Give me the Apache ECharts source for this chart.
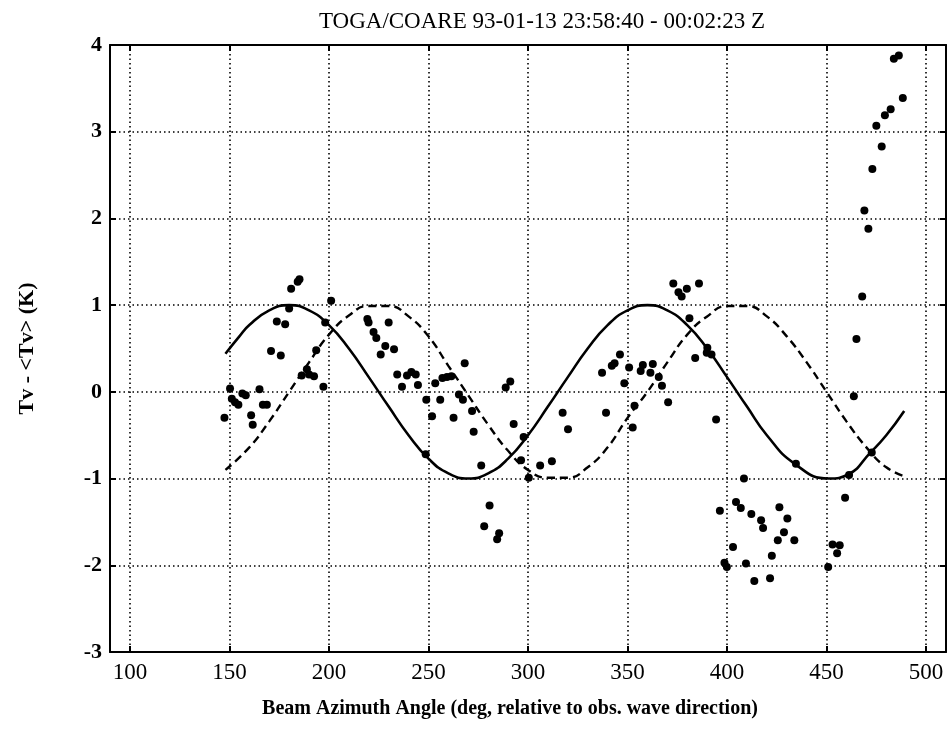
<!DOCTYPE html>
<html><head><meta charset="utf-8">
<script src="https://cdn.jsdelivr.net/npm/echarts@6/dist/echarts.min.js"></script>
<style>html,body{margin:0;padding:0;background:#fff}#c{width:952px;height:740px}</style>
</head><body><div id="c"></div>
<script>
const titleText = 'TOGA/COARE 93-01-13 23:58:40 - 00:02:23 Z';
const xAxisName = 'Beam Azimuth Angle (deg, relative to obs. wave direction)';
const yAxisName = 'Tv - <Tv> (K)';
const xTicks = [100, 150, 200, 250, 300, 350, 400, 450, 500];
const yTicks = [-3, -2, -1, 0, 1, 2, 3, 4];

// observed points [azimuth, Tv - <Tv>]
const obsAngle = [147.5,150.3,151.2,152.8,154.5,156.5,158.2,160.9,161.7,165.1,166.8,168.8,170.9,173.8,175.8,178.0,180.0,181.0,184.3,185.2,186.3,188.9,190.0,192.5,193.6,197.2,198.1,201.1,
219.3,219.9,222.4,223.8,226.0,228.3,230.0,232.7,234.3,236.7,239.2,241.4,243.6,244.7,248.6,248.9,251.8,253.4,255.9,257.0,259.3,261.5,262.6,265.3,267.3,268.2,271.9,272.7,276.5,278.0,280.7,284.5,285.5,288.8,291.1,292.8,296.5,297.8,300.4,306.1,312.0,317.4,320.1,
337.2,339.2,342.1,343.5,346.2,348.4,350.8,352.6,353.5,356.6,357.7,361.5,362.7,365.7,367.3,370.4,373.0,375.6,377.2,379.8,381.1,384.0,385.9,389.8,390.1,392.2,394.5,396.4,398.7,399.9,403.0,404.5,406.9,408.5,409.5,412.2,413.7,417.1,418.1,421.6,422.5,425.5,426.3,428.6,430.3,433.8,434.6,450.8,453.0,455.3,456.6,459.3,461.3,463.7,465.0,467.9,469.0,471.0,472.7,473.0,475.0,477.7,479.3,482.2,483.8,486.3,488.3];
const obsValue = [-0.30,0.04,-0.08,-0.12,-0.15,-0.02,-0.04,-0.27,-0.38,0.03,-0.15,-0.15,0.47,0.81,0.42,0.78,0.96,1.19,1.27,1.30,0.19,0.26,0.20,0.18,0.48,0.06,0.80,1.05,
0.84,0.80,0.69,0.62,0.43,0.53,0.80,0.49,0.20,0.06,0.19,0.23,0.20,0.08,-0.72,-0.09,-0.28,0.10,-0.09,0.16,0.17,0.18,-0.30,-0.03,-0.09,0.33,-0.22,-0.46,-0.85,-1.55,-1.31,-1.70,-1.63,0.05,0.12,-0.37,-0.79,-0.52,-0.99,-0.85,-0.80,-0.24,-0.43,
0.22,-0.24,0.30,0.33,0.43,0.10,0.28,-0.41,-0.16,0.24,0.31,0.22,0.32,0.17,0.07,-0.12,1.25,1.15,1.10,1.19,0.85,0.39,1.25,0.45,0.51,0.43,-0.32,-1.37,-1.97,-2.02,-1.79,-1.27,-1.34,-1.00,-1.98,-1.41,-2.18,-1.48,-1.57,-2.15,-1.89,-1.71,-1.33,-1.62,-1.46,-1.71,-0.83,-2.02,-1.76,-1.86,-1.77,-1.22,-0.96,-0.05,0.61,1.10,2.09,1.88,-0.70,2.57,3.07,2.83,3.19,3.26,3.84,3.88,3.39];

// solid fitted curve
const solidAngle = [148,155,160,170,180,190,200,210,220,230,240,250,260,270,280,290,300,310,320,330,340,350,360,370,380,390,400,410,420,434,451,461,472,480,489];
const solidValue = [0.44,0.64,0.77,0.94,1.00,0.94,0.77,0.50,0.17,-0.17,-0.50,-0.77,-0.94,-1.00,-0.94,-0.77,-0.50,-0.17,0.17,0.50,0.77,0.94,1.00,0.94,0.77,0.50,0.17,-0.17,-0.50,-0.83,-1.00,-0.95,-0.70,-0.50,-0.22];

// dashed curve
const dashAngle = [148,160,170,180,190,200,210,220,230,240,250,260,270,280,290,300,310,320,330,340,350,360,370,380,390,400,410,420,430,440,450,460,470,480,490];
const dashValue = [-0.90,-0.64,-0.34,0.00,0.34,0.66,0.88,0.99,0.99,0.87,0.64,0.30,-0.04,-0.38,-0.68,-0.90,-0.99,-0.99,-0.87,-0.64,-0.30,0.00,0.34,0.66,0.87,0.99,0.99,0.87,0.64,0.34,0.00,-0.34,-0.64,-0.87,-0.98];

const zip = (a, b) => a.map((v, i) => [v, b[i]]);

const serif = 'Liberation Serif';
const gridLine = { show: true, lineStyle: { color: '#000', width: 1.6, type: [1.5, 3] } };

const chart = echarts.init(document.getElementById('c'), null, { renderer: 'canvas' });
chart.setOption({
  backgroundColor: '#fff',
  animation: false,
  title: {
    text: titleText,
    left: 537, top: 5, textAlign: 'center',
    textStyle: { fontFamily: serif, fontSize: 23, fontWeight: 'normal', color: '#000' }
  },
  grid: { left: 110, right: 6, top: 45, bottom: 88 },
  xAxis: [{
    type: 'value', min: 90, max: 510, position: 'bottom',
    name: xAxisName, nameLocation: 'middle', nameGap: 47,
    nameTextStyle: { fontFamily: serif, fontSize: 20, fontWeight: 'bold', color: '#000', padding: [0, 36, 0, 0] },
    axisLine: { show: true, onZero: false, lineStyle: { color: '#000', width: 2 } },
    axisTick: { show: true, inside: true, length: 6, customValues: xTicks, lineStyle: { color: '#000', width: 2 } },
    axisLabel: { customValues: xTicks, margin: 9, fontFamily: serif, fontSize: 23, color: '#000' },
    splitLine: gridLine
  }, {
    type: 'value', min: 90, max: 510, position: 'top',
    axisLine: { show: true, onZero: false, lineStyle: { color: '#000', width: 2 } },
    axisTick: { show: true, inside: true, length: 6, customValues: xTicks, lineStyle: { color: '#000', width: 2 } },
    axisLabel: { show: false }, splitLine: { show: false }
  }],
  yAxis: [{
    type: 'value', min: -3, max: 4, interval: 1, position: 'left',
    name: yAxisName, nameLocation: 'middle', nameGap: 72, nameRotate: 90,
    nameTextStyle: { fontFamily: serif, fontSize: 22, fontWeight: 'bold', color: '#000' },
    axisLine: { show: true, onZero: false, lineStyle: { color: '#000', width: 2 } },
    axisTick: { show: true, inside: true, length: 6, lineStyle: { color: '#000', width: 2 } },
    axisLabel: { margin: 8, fontFamily: serif, fontSize: 22, fontWeight: 'bold', color: '#000' },
    splitLine: gridLine
  }, {
    type: 'value', min: -3, max: 4, interval: 1, position: 'right',
    axisLine: { show: true, onZero: false, lineStyle: { color: '#000', width: 2 } },
    axisTick: { show: true, inside: true, length: 6, lineStyle: { color: '#000', width: 2 } },
    axisLabel: { show: false }, splitLine: { show: false }
  }],
  series: [{
    type: 'line', data: zip(solidAngle, solidValue), showSymbol: false,
    smooth: 0.5,
    lineStyle: { color: '#000', width: 2.6 }, z: 3
  }, {
    type: 'line', data: zip(dashAngle, dashValue), showSymbol: false,
    smooth: 0.5,
    lineStyle: { color: '#000', width: 2.4, type: [8, 5] }, z: 3
  }, {
    type: 'scatter', data: zip(obsAngle, obsValue), symbol: 'circle', symbolSize: 8,
    itemStyle: { color: '#000', opacity: 1 }, z: 4
  }]
});
</script>
</body></html>
